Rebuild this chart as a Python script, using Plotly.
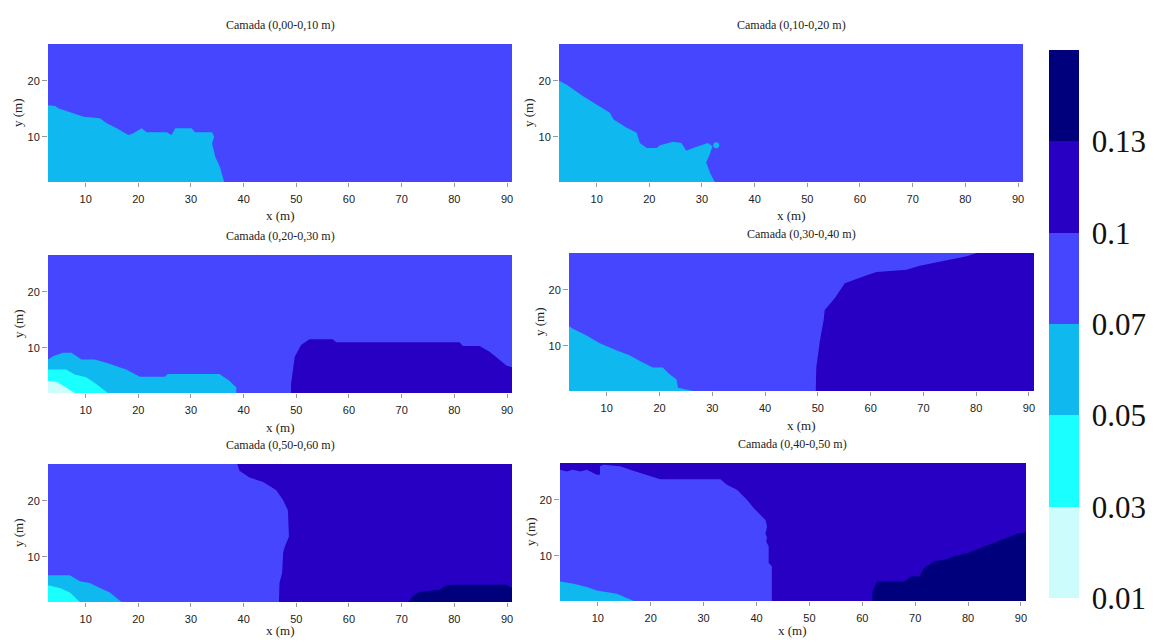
import plotly.graph_objects as go

# ---------------- data ----------------
LEVELS = ["0.01", "0.03", "0.05", "0.07", "0.1", "0.13"]
LEVEL_COLORS = ["#ccfcfc", "#1affff", "#0fb9ef", "#4646ff", "#2800c4", "#00007d"]

TITLES = ["Camada (0,00-0,10 m)", "Camada (0,10-0,20 m)",
          "Camada (0,20-0,30 m)", "Camada (0,30-0,40 m)",
          "Camada (0,50-0,60 m)", "Camada (0,40-0,50 m)"]

X_TICKS = [10, 20, 30, 40, 50, 60, 70, 80, 90]
Y_TICKS = [10, 20]

# grid extent (m)
X_LO, X_HI = 2.85, 90.95
Y_LO, Y_HI = 1.9, 26.6

# Panel 1 - boundary of 0.05-0.07 zone
p1_lb_x = [X_LO, 4.2, 4.8, 6.4, 8.0, 9.6, 12.7, 14.0, 15.9, 18.1, 19.0, 20.6, 21.6, 25.4, 26.3, 27.0,
           30.1, 30.8, 34.0, 34.4, 34.0, 34.6, 35.5, 36.3]
p1_lb_y = [15.65, 15.5, 15.1, 14.6, 14.0, 13.6, 13.3, 12.4, 11.5, 10.3, 10.6, 11.5, 10.8, 10.8, 10.3, 11.5,
           11.5, 10.8, 10.8, 10.0, 8.8, 6.4, 4.6, Y_LO]

# Panel 2 - boundary of 0.05-0.07 zone
p2_lb_x = [X_LO, 4.3, 7.5, 10.0, 12.5, 13.2, 15.7, 17.6, 18.2, 19.5, 21.4, 22.0, 24.5, 26.1, 27.0,
           28.3, 29.9, 31.1, 32.0, 31.5, 30.8, 31.5, 32.4]
p2_lb_y = [20.0, 19.3, 17.2, 15.7, 14.3, 13.1, 11.6, 10.7, 8.9, 8.0, 8.0, 8.5, 9.1, 8.9, 7.5,
           8.0, 8.5, 8.9, 8.3, 6.9, 5.4, 3.6, Y_LO]
p2_dot_x = [32.7]
p2_dot_y = [8.5]

# Panel 3
p3_lb_x = [X_LO, 3.8, 5.7, 7.3, 9.2, 11.7, 13.9, 15.8, 17.7, 20.3, 25.0, 25.6, 35.4, 37.3, 38.6, 38.6]
p3_lb_y = [7.9, 8.5, 9.1, 9.1, 7.9, 7.9, 7.3, 6.7, 6.1, 4.8, 4.8, 5.3, 5.3, 4.1, 2.9, Y_LO]
p3_cy_x = [X_LO, 6.3, 7.9, 10.1, 12.0, 14.2]
p3_cy_y = [6.1, 6.1, 5.2, 4.7, 3.5, Y_LO]
p3_lc_x = [X_LO, 4.4, 6.3, 7.9]
p3_lc_y = [4.1, 3.9, 2.9, Y_LO]
p3_pu_x = [49.0, 49.0, 49.7, 50.9, 52.5, 56.9, 57.6, 81.0, 81.6, 84.8, 86.7, 88.6, 89.9, X_HI]
p3_pu_y = [Y_LO, 3.5, 8.4, 10.5, 11.5, 11.5, 11.0, 11.0, 10.3, 10.3, 9.3, 7.8, 6.8, 6.5]

# Panel 4
p4_lb_x = [X_LO, 3.5, 6.1, 8.6, 11.8, 14.3, 16.2, 18.7, 20.6, 21.9, 23.2, 23.5, 26.3]
p4_lb_y = [13.5, 13.1, 11.9, 10.5, 9.2, 8.3, 7.3, 6.1, 6.1, 4.9, 4.0, 2.5, Y_LO]
p4_pu_x = [49.6, 49.7, 50.4, 51.1, 51.3, 53.2, 55.1, 56.7, 58.6, 61.1, 66.8, 69.3, 72.5, 75.7, 78.2, 80.1]
p4_pu_y = [Y_LO, 6.1, 11.0, 14.6, 16.4, 18.5, 21.2, 21.8, 22.4, 23.2, 23.6, 24.3, 24.9, 25.5, 26.0, Y_HI]

# Panel 5
p5_lb_x = [X_LO, 7.0, 8.9, 10.8, 12.7, 14.6, 16.8]
p5_lb_y = [6.7, 6.7, 5.6, 5.3, 4.4, 3.6, Y_LO]
p5_cy_x = [X_LO, 5.1, 7.0, 8.9]
p5_cy_y = [4.9, 4.4, 3.6, Y_LO]
p5_pu_x = [38.8, 39.2, 41.1, 43.7, 46.2, 47.5, 48.4, 48.6, 47.8, 47.5, 47.3, 46.8, 46.7]
p5_pu_y = [Y_HI, 25.4, 24.2, 23.4, 21.9, 20.1, 18.3, 13.6, 11.8, 10.7, 7.1, 5.3, Y_LO]
p5_nv_x = [71.2, 72.2, 73.1, 74.7, 77.2, 78.5, 80.4, 89.9, X_HI]
p5_nv_y = [Y_LO, 3.0, 3.6, 3.85, 4.1, 4.9, 5.0, 5.0, 4.4]

# Panel 6 (base 0.1-0.13)
p6_bl_x = [X_LO, 4.1, 5.3, 6.7, 7.9, 9.8, 10.4, 10.4, 11.1, 14.2, 16.1, 19.3, 21.8, 33.2, 34.4, 36.3,
           38.2, 39.5, 41.7, 42.0, 41.7, 42.0, 41.8, 42.3, 42.3, 42.9, 42.9]
p6_bl_y = [25.4, 25.1, 25.4, 25.1, 25.4, 24.5, 24.5, 26.0, 26.3, 26.0, 25.4, 24.5, 23.7, 23.7, 22.7, 21.8,
           20.0, 18.5, 16.4, 15.2, 14.0, 13.2, 12.6, 11.7, 8.7, 8.1, Y_LO]
p6_lb_x = [X_LO, 5.4, 7.9, 9.8, 13.6, 15.5, 16.8]
p6_lb_y = [5.4, 5.0, 4.4, 3.8, 3.2, 2.4, Y_LO]
p6_nv_x = [61.9, 61.9, 62.8, 67.9, 69.2, 70.7, 71.7, 73.6, 75.5, 77.4, 79.9, 82.4, 84.9, 87.5, 89.4, X_HI]
p6_nv_y = [Y_LO, 3.6, 5.4, 5.4, 6.3, 6.3, 7.8, 9.0, 9.3, 9.9, 10.5, 11.4, 12.3, 13.2, 14.0, 14.2]

# ---------------- layout helpers ----------------
OFF = 8                      # page body margin in the browser
W, H = 1155 - OFF, 642 - OFF
# panel boxes in window pixels: left, right, top, bottom
BOXES = [(48, 512, 44, 182), (559, 1023, 44, 182),
         (48, 512, 255, 393), (569, 1034, 253, 391),
         (48, 512, 464, 602), (560, 1026, 463, 601)]


def fx(p):
    return (p - OFF) / W


def fy(p):
    return 1 - (p - OFF) / H


CORNERS = {"SW": (X_LO, Y_LO), "SE": (X_HI, Y_LO), "NE": (X_HI, Y_HI), "NW": (X_LO, Y_HI)}

fig = go.Figure()


def region(n, xs, ys, corners, level):
    px = list(xs) + [CORNERS[c][0] for c in corners]
    py = list(ys) + [CORNERS[c][1] for c in corners]
    px.append(px[0])
    py.append(py[0])
    fig.add_trace(go.Scatter(x=px, y=py, mode="lines", fill="toself",
                             fillcolor=LEVEL_COLORS[level], line=dict(width=0),
                             hoverinfo="skip", showlegend=False,
                             xaxis=f"x{n if n > 1 else ''}", yaxis=f"y{n if n > 1 else ''}"))


def base(n, level):
    region(n, [], [], ["SW", "SE", "NE", "NW"], level)


# panel 1
base(1, 3)
region(1, p1_lb_x, p1_lb_y, ["SW"], 2)
# panel 2
base(2, 3)
region(2, p2_lb_x, p2_lb_y, ["SW"], 2)
fig.add_trace(go.Scatter(x=p2_dot_x, y=p2_dot_y, mode="markers",
                         marker=dict(size=6, color=LEVEL_COLORS[2]), hoverinfo="skip",
                         showlegend=False, xaxis="x2", yaxis="y2"))
# panel 3
base(3, 3)
region(3, p3_pu_x, p3_pu_y, ["SE"], 4)
region(3, p3_lb_x, p3_lb_y, ["SW"], 2)
region(3, p3_cy_x, p3_cy_y, ["SW"], 1)
region(3, p3_lc_x, p3_lc_y, ["SW"], 0)
# panel 4
base(4, 3)
region(4, p4_pu_x, p4_pu_y, ["NE", "SE"], 4)
region(4, p4_lb_x, p4_lb_y, ["SW"], 2)
# panel 5
base(5, 3)
region(5, p5_pu_x, p5_pu_y, ["SE", "NE"], 4)
region(5, p5_nv_x, p5_nv_y, ["SE"], 5)
region(5, p5_lb_x, p5_lb_y, ["SW"], 2)
region(5, p5_cy_x, p5_cy_y, ["SW"], 1)
# panel 6
base(6, 4)
region(6, p6_bl_x, p6_bl_y, ["SW"], 3)
region(6, p6_nv_x, p6_nv_y, ["SE"], 5)
region(6, p6_lb_x, p6_lb_y, ["SW"], 2)

# colour bar (discrete bands)
nb = len(LEVEL_COLORS)
cscale = []
for i, c in enumerate(LEVEL_COLORS):
    cscale.append([i / nb, c])
    cscale.append([(i + 1) / nb, c])
fig.add_trace(go.Scatter(x=[50], y=[14], mode="markers",
                         marker=dict(size=1, opacity=0, color=[0], colorscale=cscale,
                                     cmin=0, cmax=nb, showscale=True,
                                     colorbar=dict(
                                         x=fx(1049), xanchor="left", xpad=0, ypad=0,
                                         y=fy(324), yanchor="middle",
                                         lenmode="pixels", len=548,
                                         thicknessmode="pixels", thickness=30,
                                         outlinewidth=0,
                                         tickvals=list(range(len(LEVELS))), ticktext=LEVELS,
                                         ticks="outside", ticklen=7, tickcolor="rgba(0,0,0,0)",
                                         tickfont=dict(family="Liberation Serif, Times New Roman, serif",
                                                       size=31, color="#111"))),
                         hoverinfo="skip", showlegend=False))

SERIF = "Liberation Serif, Times New Roman, serif"
SANS = "Liberation Sans, Arial, sans-serif"

annotations = []
for i, (l, r, t, b) in enumerate(BOXES):
    n = i + 1
    sfx = "" if n == 1 else str(n)
    fig.layout[f"xaxis{sfx}"] = dict(domain=[fx(l), fx(r)], range=[X_LO, X_HI], tickvals=X_TICKS,
                                     showgrid=False, zeroline=False, showline=False,
                                     ticks="outside", ticklen=4, tickcolor="#999",
                                     ticklabelstandoff=3,
                                     tickfont=dict(family=SANS, size=11, color="#222"),
                                     anchor=f"y{sfx}")
    fig.layout[f"yaxis{sfx}"] = dict(domain=[fy(b), fy(t)], range=[Y_LO, Y_HI], tickvals=Y_TICKS,
                                     showgrid=False, zeroline=False, showline=False,
                                     ticks="outside", ticklen=5, tickcolor="#999",
                                     tickfont=dict(family=SANS, size=11, color="#222"),
                                     anchor=f"x{sfx}")
    cx = fx((l + r) / 2)
    annotations.append(dict(text=TITLES[i], x=cx, y=fy(t - 19), xref="paper", yref="paper",
                            showarrow=False, xanchor="center", yanchor="middle",
                            font=dict(family=SERIF, size=12, color="#222")))
    annotations.append(dict(text="x (m)", x=cx, y=fy(min(b + 34, 630)), xref="paper", yref="paper",
                            showarrow=False, xanchor="center", yanchor="middle",
                            font=dict(family=SERIF, size=13, color="#222")))
    annotations.append(dict(text="y (m)", x=fx(l - 30), y=fy((t + b) / 2), xref="paper", yref="paper",
                            showarrow=False, xanchor="center", yanchor="middle", textangle=-90,
                            font=dict(family=SERIF, size=13, color="#222")))

fig.update_layout(width=W, height=H, autosize=False,
                  margin=dict(l=0, r=0, t=0, b=0),
                  paper_bgcolor="white", plot_bgcolor="white",
                  annotations=annotations, showlegend=False)

fig.write_html("out.html")
